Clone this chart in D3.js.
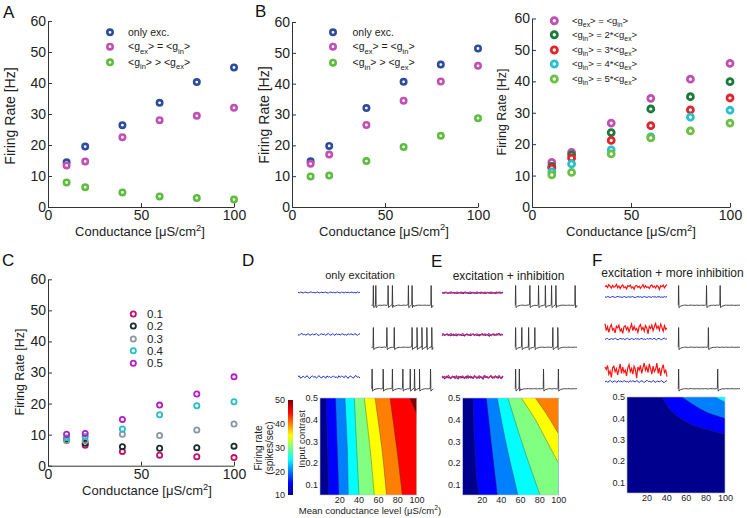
<!DOCTYPE html>
<html lang="en">
<head>
<meta charset="UTF-8">
<title>Firing rate vs conductance</title>
<style>
  body { margin: 0; background: #fff; }
  svg { font-family: "Liberation Sans", Arial, sans-serif; }
  .axis path, .axis line { stroke: #333; }
  .axis text { fill: #222; }
</style>
</head>
<body>
<script src="https://d3js.org/d3.v7.min.js"></script>
<script>
// ---- data ----
const cond = [10, 20, 40, 60, 80, 100];

// panel A
const aOnlyExc = [14.4, 19.5, 26.4, 33.6, 40.3, 45.0];
const aEqual   = [13.4, 14.7, 22.5, 28.0, 29.4, 32.0];
const aMoreInh = [7.9, 6.4, 4.7, 3.4, 2.9, 2.4];
// panel B
const bOnlyExc = [14.8, 19.8, 32.1, 40.6, 46.2, 51.4];
const bEqual   = [14.0, 17.0, 26.6, 34.5, 40.7, 45.8];
const bMoreInh = [9.9, 10.2, 14.9, 19.5, 23.1, 28.8];
// ratio panel
const ratio1 = [14.2, 17.4, 26.7, 34.6, 40.7, 45.7];
const ratio2 = [12.9, 16.6, 23.7, 31.2, 35.1, 39.9];
const ratio3 = [12.4, 15.6, 21.2, 25.9, 30.9, 34.7];
const ratio4 = [11.2, 13.7, 18.2, 22.3, 28.6, 30.8];
const ratio5 = [10.2, 11.0, 16.9, 22.0, 24.2, 26.7];
// panel C (input contrast)
const contrast01 = [8.5, 6.6, 4.6, 3.4, 2.9, 2.6];
const contrast02 = [8.6, 7.2, 6.1, 5.6, 5.8, 6.3];
const contrast03 = [8.0, 8.0, 10.1, 9.7, 11.5, 13.4];
const contrast04 = [9.0, 9.4, 11.8, 16.4, 19.3, 20.6];
const contrast05 = [10.1, 10.4, 14.9, 19.5, 23.1, 28.6];

const legendAB = ["only exc.", "<g_{ex}> = <g_{in}>", "<g_{in}> > <g_{ex}>"];
const legendRatio = ["<g_{ex}> = <g_{in}>", "<g_{in}> = 2*<g_{ex}>", "<g_{in}> = 3*<g_{ex}>",
                     "<g_{in}> = 4*<g_{ex}>", "<g_{in}> = 5*<g_{ex}>"];
const legendC = ["0.1", "0.2", "0.3", "0.4", "0.5"];

// contour maps: iso-rate lines as [conductance, contrast] points
const levels = [15, 20, 25, 30, 35, 40, 45, 50];
const boundsD = [
  [[8.8, 0.05], [7.8, 0.27], [6.2, 0.5]],
  [[19.7, 0.05], [18, 0.27], [16.2, 0.5]],
  [[29.4, 0.05], [28.3, 0.27], [25.9, 0.5]],
  [[40.4, 0.05], [38, 0.27], [35.6, 0.5]],
  [[56.3, 0.05], [51.8, 0.27], [45.9, 0.5]],
  [[69, 0.05], [64, 0.27], [57, 0.5]],
  [[85.3, 0.05], [79.4, 0.27], [72.5, 0.5]],
  [[100, 0.43], [96, 0.47], [93.3, 0.5]]
];
const boundsE = [
  [[17, 0.05], [15, 0.12], [12.5, 0.3], [11, 0.5]],
  [[36.5, 0.05], [30.5, 0.28], [25, 0.5]],
  [[58, 0.05], [46, 0.28], [36.3, 0.5]],
  [[81, 0.05], [63, 0.28], [47.5, 0.5]],
  [[100, 0.2], [88, 0.3], [76, 0.4], [61.4, 0.5]],
  [[100, 0.335], [87, 0.43], [76, 0.5]]
];
const boundsF = [
  [[100, 0.325], [80, 0.35], [64, 0.375], [45, 0.435], [36, 0.5]],
  [[100, 0.4], [86, 0.42], [74.5, 0.445], [56, 0.5]],
  [[100, 0.476], [94, 0.49], [90, 0.5]]
];

// spike times (fraction of trace length)
const spikesD = [
  [0.03, 0.07, 0.27, 0.34, 0.60, 0.66, 0.97],
  [0.03, 0.25, 0.37, 0.66, 0.74, 0.82, 0.90, 0.98],
  [0.01, 0.19, 0.34, 0.51, 0.63, 0.70, 0.78, 0.96]
];
const spikesE = [
  [0.01, 0.24, 0.38, 0.49, 0.59, 0.66, 0.97],
  [0.01, 0.11, 0.22, 0.32, 0.61, 0.69],
  [0.01, 0.07, 0.46, 0.70]
];
const spikesF = [
  [0.01, 0.46, 0.68],
  [0.01, 0.49],
  [0.01, 0.64]
];
// conductance trace wiggles (hand traced, unit amplitude)
const noiseA = [0.2, -0.5, 0.8, 0.1, -0.9, 0.4, 0.6, -0.3, -0.7, 0.5, 0.9, -0.2, 0.1, -0.6, 0.3, 0.7,
  -0.8, -0.1, 0.5, -0.4, 0.2, 0.8, -0.5, -0.9, 0.3, 0.6, -0.2, 0.4, -0.7, 0.1, 0.9, -0.3, -0.6, 0.5,
  0.2, -0.8, 0.7, -0.1, 0.4, -0.5, 0.3, 0.6, -0.4, 0.1, -0.7, 0.8, -0.2, 0.5];
const noiseB = [0.1, 0.5, -0.2, 0.9, 0.3, -0.4, 0.6, -0.1, 0.2, 1.0, -0.3, 0.4, -0.6, 0.3, 0.8, -0.2,
  0.1, -0.7, 0.5, 0.2, 0.7, -0.4, 0.0, -0.8, 0.4, 0.6, -0.1, 0.3, -0.5, 0.2, 0.9, -0.3, 0.5, -0.2,
  0.1, -0.6, 0.4, 0.8, -0.1, 0.3, -0.4, 0.6, 0.2, -0.9, 0.5, 0.1, 0.7, -0.3, 0.4, 1.0];
// spike waveform: [time offset, mV]
const spikeShape = [[-0.005, -61], [0, 20], [0.006, -74], [0.03, -68], [0.08, -64]];

// ---- drawing ----
const svg = d3.select("body").append("svg").attr("width", 747).attr("height", 518);

function rich(g, x, y, str, size) {
  const t = g.append("text").attr("x", x).attr("y", y).attr("font-size", size);
  let shift = 0;
  str.split(/(_\{[^}]*\}|\^\{[^}]*\})/).filter(s => s).forEach(s => {
    let target = 0, txt = s, small = false;
    if (s.startsWith("_{")) { target = size * 0.3; txt = s.slice(2, -1); small = true; }
    if (s.startsWith("^{")) { target = -size * 0.4; txt = s.slice(2, -1); small = true; }
    t.append("tspan").attr("dy", target - shift).attr("font-size", small ? size * 0.72 : null).text(txt);
    shift = target;
  });
  return t;
}

function styleAxis(sel, size) {
  sel.attr("class", "axis").attr("font-family", null).attr("font-size", size);
}

function scatterPanel(o) {
  const g = svg.append("g");
  const x = d3.scaleLinear().domain([0, 100]).range([o.left, o.right]);
  const y = d3.scaleLinear().domain([0, 60]).range([o.bottom, o.top]);
  g.append("g").attr("transform", `translate(0,${o.bottom})`)
    .call(d3.axisBottom(x).tickValues([0, 50, 100]).tickSizeInner(-4).tickSizeOuter(0).tickPadding(3))
    .call(styleAxis, 14);
  g.append("g").attr("transform", `translate(${o.left},0)`)
    .call(d3.axisLeft(y).tickValues([0, 10, 20, 30, 40, 50, 60]).tickSizeInner(-4).tickSizeOuter(0).tickPadding(2))
    .call(styleAxis, 14);

  o.series.forEach(s => {
    g.selectAll(null).data(s.values).join("circle")
      .attr("cx", (d, i) => x(cond[i])).attr("cy", d => y(d))
      .attr("r", o.r).attr("fill", o.fill).attr("stroke", s.color).attr("stroke-width", o.sw);
  });
  o.series.forEach((s, i) => {
    const ly = o.legY[i];
    g.append("circle").attr("cx", o.legX).attr("cy", ly).attr("r", o.lr || o.r)
      .attr("fill", o.fill).attr("stroke", s.color).attr("stroke-width", o.sw);
    rich(g, o.legTX, ly + o.legSize * 0.35, o.labels[i], o.legSize).attr("fill", "#222");
  });

  rich(g, o.xlab[0], o.xlab[1], "Conductance [μS/cm^{2}]", 13).attr("text-anchor", "middle").attr("fill", "#222");
  g.append("text").attr("transform", `translate(${o.ylab[0]},${o.ylab[1]}) rotate(-90)`)
    .attr("text-anchor", "middle").attr("font-size", o.ylabSize).attr("fill", "#222").text("Firing Rate [Hz]");
  if (o.letter) g.append("text").attr("x", o.letter[1]).attr("y", o.letter[2])
    .attr("font-size", 17).attr("fill", "#111").text(o.letter[0]);
}

const blue = "#2c4c9c", mag = "#c24fb4", grn = "#5dbd3d";
scatterPanel({
  left: 48, right: 234, top: 21, bottom: 207, r: 2.7, sw: 2.6, fill: "#fff",
  series: [{ values: aOnlyExc, color: blue }, { values: aEqual, color: mag }, { values: aMoreInh, color: grn }],
  labels: legendAB, legX: 110, legTX: 128, legY: [32.3, 46.7, 62.3], legSize: 10.5,
  xlab: [140, 236], ylab: [15, 116], ylabSize: 14, letter: ["A", 3, 18]
});
scatterPanel({
  left: 292, right: 478, top: 22, bottom: 207, r: 2.7, sw: 2.6, fill: "#fff",
  series: [{ values: bOnlyExc, color: blue }, { values: bEqual, color: mag }, { values: bMoreInh, color: grn }],
  labels: legendAB, legX: 333, legTX: 352.5, legY: [32.3, 46.7, 62.7], legSize: 10.5,
  xlab: [384, 235.5], ylab: [269, 115], ylabSize: 14, letter: ["B", 255, 17]
});
scatterPanel({
  left: 532, right: 730, top: 18.5, bottom: 207, r: 3.0, sw: 2.8, lr: 3.1, fill: "#fff",
  series: [{ values: ratio1, color: "#c04fb3" }, { values: ratio2, color: "#1b7b3b" },
           { values: ratio3, color: "#e2252c" }, { values: ratio4, color: "#27c0cc" },
           { values: ratio5, color: "#6abf45" }],
  labels: legendRatio, legX: 554.3, legTX: 572, legY: [20.7, 34.7, 50, 64, 79], legSize: 9.5,
  xlab: [631, 236], ylab: [506, 112], ylabSize: 12.5
});
scatterPanel({
  left: 48, right: 234, top: 279.3, bottom: 465.7, r: 2.6, sw: 1.8, fill: "none",
  series: [{ values: contrast01, color: "#c0126a" }, { values: contrast02, color: "#1d2b2c" },
           { values: contrast03, color: "#8a98a3" }, { values: contrast04, color: "#28bfc0" },
           { values: contrast05, color: "#b41ec4" }],
  labels: legendC, legX: 133.3, legTX: 147, legY: [314, 326, 339, 350.7, 363.3], legSize: 11.5,
  xlab: [147, 495], ylab: [24, 372], ylabSize: 12.5, letter: ["C", 2, 266]
});

// jet colormap
const jetStops = [[0, "#00008f"], [0.125, "#0000ff"], [0.375, "#00ffff"], [0.625, "#ffff00"], [0.875, "#ff0000"], [1, "#800000"]];
const jet = d3.scaleLinear().domain(jetStops.map(d => d[0])).range(jetStops.map(d => d[1])).interpolate(d3.interpolateRgb);
const rateNorm = d3.scaleLinear().domain([10, 50]).range([0, 1]);

function contourPanel(o, id) {
  const g = svg.append("g");
  const x = d3.scaleLinear().domain([0, 100]).range([o.left, o.right]);
  const y = d3.scaleLinear().domain([0.05, 0.5]).range([o.bottom, o.top]);
  g.append("clipPath").attr("id", id).append("rect")
    .attr("x", x(0)).attr("y", y(0.5)).attr("width", x(100) - x(0)).attr("height", y(0.05) - y(0.5));
  const inner = g.append("g").attr("clip-path", `url(#${id})`);
  inner.append("rect").attr("x", x(0)).attr("y", y(0.5)).attr("width", x(100) - x(0))
    .attr("height", y(0.05) - y(0.5)).attr("fill", jet(0));
  const line = d3.line().x(d => x(d[0])).y(d => y(d[1])).curve(d3.curveCatmullRom);
  o.bounds.forEach((pts, k) => {
    const dl = line(pts);
    inner.append("path").attr("d", dl + `L${x(100) + 3},${y(0.5) - 3}L${x(100) + 3},${y(0.05) + 3}Z`)
      .attr("fill", jet(rateNorm(levels[k])));
    inner.append("path").attr("d", dl).attr("fill", "none").attr("stroke", "#333").attr("stroke-width", 0.5).attr("stroke-opacity", 0.7);
  });
  g.append("rect").attr("x", x(0)).attr("y", y(0.5)).attr("width", x(100) - x(0))
    .attr("height", y(0.05) - y(0.5)).attr("fill", "none").attr("stroke", "#b8bcd8").attr("stroke-width", 0.6);
  g.append("g").attr("transform", `translate(${x(0)},0)`)
    .call(d3.axisLeft(y).tickValues([0.1, 0.2, 0.3, 0.4, 0.5]).tickFormat(d3.format(".1f")).tickSize(0).tickPadding(2))
    .call(styleAxis, 9).call(a => a.select(".domain").remove());
  g.append("g").attr("transform", `translate(0,${y(0.05)})`)
    .call(d3.axisBottom(x).tickValues([20, 40, 60, 80, 100]).tickSize(0).tickPadding(1.5))
    .call(styleAxis, 9).call(a => a.select(".domain").remove());
}

contourPanel({ left: 320, right: 416.5, top: 398, bottom: 495, bounds: boundsD }, "clipD");
contourPanel({ left: 462.5, right: 558.3, top: 398, bottom: 495, bounds: boundsE }, "clipE");
contourPanel({ left: 627, right: 725, top: 397, bottom: 493, bounds: boundsF }, "clipF");

// colorbar
const defs = svg.append("defs");
const grad = defs.append("linearGradient").attr("id", "jetGrad").attr("x1", 0).attr("x2", 0).attr("y1", 1).attr("y2", 0);
jetStops.forEach(s => grad.append("stop").attr("offset", s[0]).attr("stop-color", s[1]));
const cb = d3.scaleLinear().domain([10, 50]).range([495, 400]);
svg.append("rect").attr("x", 288).attr("y", 400).attr("width", 5).attr("height", 95).attr("fill", "url(#jetGrad)");
svg.append("g").attr("transform", "translate(288,0)")
  .call(d3.axisLeft(cb).tickValues([10, 20, 30, 40, 50]).tickSize(0).tickPadding(3))
  .call(styleAxis, 9).call(a => a.select(".domain").remove());
svg.append("text").attr("transform", "translate(262,448) rotate(-90)").attr("text-anchor", "middle")
  .attr("font-size", 10).attr("fill", "#222").text("Firing rate");
svg.append("text").attr("transform", "translate(273,448) rotate(-90)").attr("text-anchor", "middle")
  .attr("font-size", 10).attr("fill", "#222").text("(spikes/sec)");
svg.append("text").attr("transform", "translate(304.5,439) rotate(-90)").attr("text-anchor", "middle")
  .attr("font-size", 9.5).attr("fill", "#222").text("Input contrast");
rich(svg, 370, 514, "Mean conductance level (μS/cm^{2})", 9.5).attr("text-anchor", "middle").attr("fill", "#222");

// traces
function noiseTrace(x0, x1, yc, amp, noise, shift, color, w) {
  const n = noise.length;
  const xs = d3.scaleLinear().domain([0, n - 1]).range([x0, x1]);
  const vals = noise.map((_, i) => noise[(i + shift) % n]);
  svg.append("path").attr("d", d3.line().x((d, i) => xs(i)).y(d => yc - amp * d)(vals))
    .attr("fill", "none").attr("stroke", color).attr("stroke-width", w);
}
function spikeTrace(x0, x1, base, spikes) {
  const t = d3.scaleLinear().domain([0, 1]).range([x0, x1]);
  const v = d3.scaleLinear().domain([-65, 20]).range([base, base - 20]);
  const n = noiseA.length;
  let pts = noiseA.map((d, i) => [i / (n - 1), -64 + 0.9 * d])
    .filter(p => !spikes.some(s => p[0] > s - 0.006 && p[0] < s + 0.085));
  spikes.forEach(s => spikeShape.forEach(p => pts.push([Math.max(0, Math.min(1, s + p[0])), p[1]])));
  pts.sort((a, b) => a[0] - b[0]);
  svg.append("path").attr("d", d3.line().x(d => t(d[0])).y(d => v(d[1]))(pts))
    .attr("fill", "none").attr("stroke", "#333").attr("stroke-width", 0.9);
}

const rowsY = [292.5, 334.5, 377];
const baseY = [305.5, 347.5, 389];
const ampD = [0.6, 1.1, 1.6];
rowsY.forEach((yc, i) => noiseTrace(298, 360, yc, ampD[i], noiseA, i * 7, "#2030cc", 1));
rowsY.forEach((yc, i) => noiseTrace(442, 503, yc + 0.6, ampD[i], noiseB, i * 5, "#2030cc", 1.1));
rowsY.forEach((yc, i) => noiseTrace(442, 503, yc, ampD[i] * 1.1, noiseA, i * 11 + 3, "#d8235c", 1.1));
const redY = [287, 329, 371], blueY = [297, 339, 381.5];
const ampFr = [2.6, 5.5, 8], ampFb = [0.6, 0.9, 1.2];
redY.forEach((yc, i) => noiseTrace(605, 667, yc, ampFr[i], noiseB, i * 9, "#ff1414", 1.2));
blueY.forEach((yc, i) => noiseTrace(605, 667, yc, ampFb[i], noiseA, i * 13, "#2030cc", 1));

baseY.forEach((b, i) => spikeTrace(371.5, 433, b, spikesD[i]));
baseY.forEach((b, i) => spikeTrace(515, 577, b, spikesE[i]));
baseY.forEach((b, i) => spikeTrace(678, 740, b, spikesF[i]));

// titles and letters
svg.append("text").attr("x", 360).attr("y", 279).attr("text-anchor", "middle").attr("font-size", 11).attr("fill", "#222").text("only excitation");
svg.append("text").attr("x", 508.5).attr("y", 280).attr("text-anchor", "middle").attr("font-size", 12).attr("fill", "#222").text("excitation + inhibition");
svg.append("text").attr("x", 672.5).attr("y", 277).attr("text-anchor", "middle").attr("font-size", 12).attr("fill", "#222").text("excitation + more inhibition");
[["D", 242, 266], ["E", 431, 267], ["F", 592, 266]].forEach(l =>
  svg.append("text").attr("x", l[1]).attr("y", l[2]).attr("font-size", 17).attr("fill", "#111").text(l[0]));
</script>
</body>
</html>
